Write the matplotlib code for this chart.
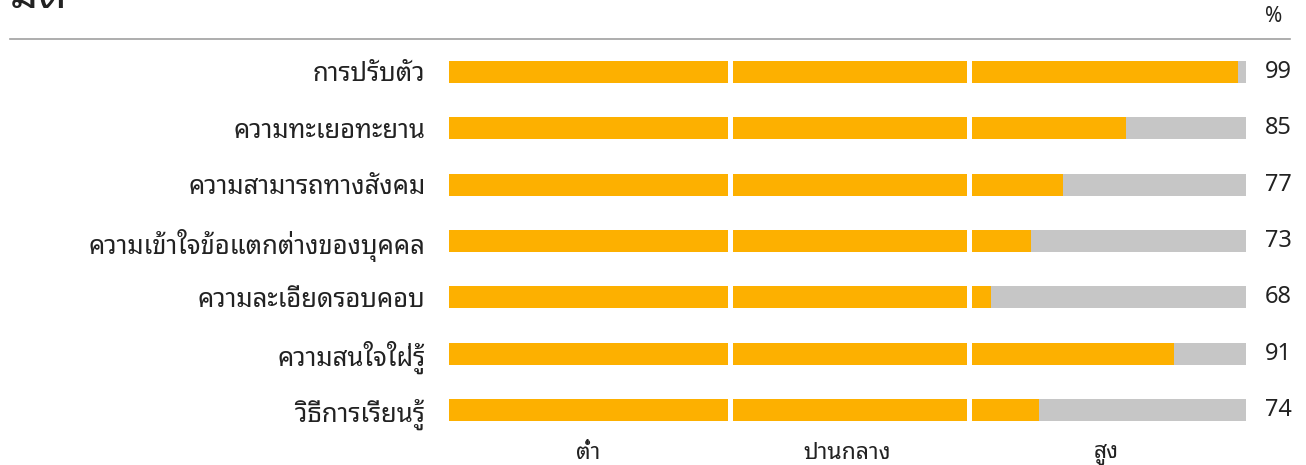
import matplotlib
matplotlib.use("Agg")
import matplotlib.pyplot as plt

plt.rcParams['font.family'] = ['Noto Sans Thai Looped', 'DejaVu Sans']

# ข้อมูล
categories = ["การปรับตัว", "ความทะเยอทะยาน", "ความสามารถทางสังคม",
              "ความเข้าใจข้อแตกต่างของบุคคล", "ความละเอียดรอบคอบ",
              "ความสนใจใฝ่รู้", "วิธีการเรียนรู้"]
values = [99, 85, 77, 73, 68, 91, 74]
levels = ["ต่ำ", "ปานกลาง", "สูง"]
level_edges = [0, 35, 65, 100]

orange = "#FDB000"
grey = "#C6C6C6"
text_col = "#222222"

fig = plt.figure(figsize=(13.06, 4.65), dpi=100)
ax = fig.add_axes([449 / 1306, 1 - 438.2 / 465, 797 / 1306, 394.4 / 465])

y = list(range(len(categories)))
ax.barh(y, [100] * len(y), height=0.39, color=grey, linewidth=0)
ax.barh(y, values, height=0.39, color=orange, linewidth=0)

# ช่องว่างสีขาวระหว่างระดับ
for b in level_edges[1:-1]:
    ax.axvspan(b, b + 0.6, color="white", lw=0)

ax.set_xlim(0, 100)
ax.set_ylim(len(y) - 0.5, -0.5)
ax.set_yticks(y)
ax.set_yticklabels(categories, fontsize=18.5, color=text_col)
ax.tick_params(axis="y", length=0, pad=17)
ax.set_xticks([(level_edges[i] + level_edges[i + 1]) / 2 for i in range(3)])
ax.set_xticklabels(levels, fontsize=16.5, color=text_col)
ax.tick_params(axis="x", length=0, pad=2)
for s in ax.spines.values():
    s.set_visible(False)

for yi, v in zip(y, values):
    ax.text(102.4, yi, str(v), va="center", ha="left", fontsize=17, color=text_col)

# หัวข้อ (ถูกตัดขอบบนเหมือนต้นฉบับ)
fig.text(10 / 1306, 1 - 8 / 465, "มิติ", fontsize=32, fontweight="bold",
         va="baseline", ha="left", color=text_col)
fig.text(1265 / 1306, 1 - 16 / 465, "%", fontsize=15, va="center", ha="left", color=text_col)
fig.add_artist(plt.Line2D([10 / 1306, 1290 / 1306], [1 - 39 / 465] * 2,
                          color="#A0A0A0", lw=1.2))

fig.savefig("out.png")
